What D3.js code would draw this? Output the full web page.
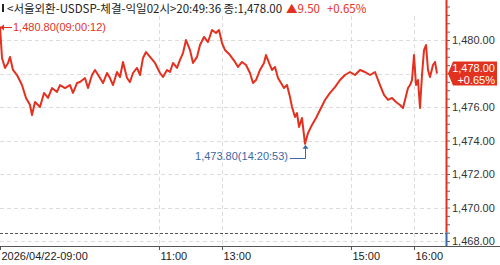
<!DOCTYPE html>
<html>
<head>
<meta charset="utf-8">
<script src="https://cdn.jsdelivr.net/npm/d3@7"></script>
<style>
  body { margin: 0; background: #fff; }
  svg { display: block; }
  text { font-family: "Liberation Sans", Arial, sans-serif; }
</style>
</head>
<body>
<div id="chart"></div>
<script>
// bar sequence index (one per tick bar) and the traded price at it
var seq = [0, 2, 5, 8, 10, 13, 17, 22, 26, 30, 32, 35, 40, 44, 48, 52, 57, 60, 65, 70, 73, 77, 80, 85, 88, 92, 95, 100, 103, 107, 110, 113, 117, 120, 123, 127, 130, 133, 137, 140, 143, 146, 150, 155, 160, 163, 167, 170, 173, 177, 180, 183, 186, 190, 193, 197, 200, 204, 208, 212, 216, 219, 222, 225, 230, 235, 238, 242, 246, 250, 253, 256, 260, 264, 266, 269, 272, 275, 278, 281, 284, 287, 290, 292, 295, 297, 299, 302, 305, 308, 312, 316, 320, 325, 330, 335, 340, 345, 350, 355, 360, 365, 370, 375, 380, 384, 388, 392, 396, 400, 403, 405, 408, 410, 412, 414, 416, 418, 420, 422, 424, 426, 428, 430, 433, 435, 437];
var price = [1480.80, 1478.93, 1478.33, 1478.63, 1478.99, 1478.21, 1477.91, 1477.31, 1476.54, 1476.12, 1475.52, 1476.30, 1476.00, 1476.84, 1476.54, 1477.13, 1476.90, 1477.31, 1477.13, 1477.31, 1476.84, 1477.43, 1477.49, 1477.73, 1477.13, 1477.91, 1478.21, 1477.73, 1477.43, 1478.03, 1477.73, 1477.31, 1478.09, 1477.79, 1478.69, 1477.73, 1477.49, 1478.03, 1478.33, 1477.91, 1478.93, 1479.28, 1478.99, 1478.63, 1478.03, 1477.79, 1478.21, 1478.09, 1478.63, 1478.33, 1478.81, 1479.22, 1480.00, 1479.40, 1478.63, 1478.99, 1479.70, 1480.18, 1479.88, 1480.60, 1480.42, 1480.60, 1479.82, 1479.40, 1479.10, 1478.69, 1478.39, 1478.69, 1478.51, 1478.03, 1477.43, 1477.61, 1478.21, 1478.63, 1479.10, 1478.63, 1478.21, 1478.39, 1477.73, 1477.43, 1477.13, 1477.31, 1476.60, 1476.00, 1475.40, 1475.64, 1474.81, 1475.34, 1473.80, 1474.45, 1474.93, 1475.34, 1475.82, 1476.42, 1476.84, 1477.19, 1477.61, 1477.91, 1478.09, 1477.91, 1478.21, 1478.09, 1477.91, 1478.09, 1477.31, 1476.72, 1476.42, 1476.54, 1476.30, 1476.12, 1475.94, 1476.42, 1477.13, 1477.31, 1477.61, 1479.10, 1477.31, 1477.61, 1475.94, 1477.91, 1479.40, 1479.70, 1478.21, 1477.79, 1478.51, 1478.69, 1478.00];

var tickSeq = [0, 159, 222, 351, 414];
var tickLabels = ["2026/04/22-09:00", "11:00", "13:00", "15:00", "16:00"];
var yTicks = [1468, 1470, 1472, 1474, 1476, 1478, 1480];

var prevClose = 1468.50;
var lastPrice = 1478.00;
var change = "▲9.50";
var changePct = "+0.65%";
var highText = "1,480.80(09:00:12)";
var lowText = "1,473.80(14:20:53)";
var title = "<서울외환-USDSP-체결-익일02시>20:49:36 종:1,478.00";

var width = 500, height = 265;
var axisX = 446, axisBottomY = 246;
var red = "#e3311f", blue = "#3b67a3";

var svg = d3.select("#chart").append("svg")
    .attr("width", width)
    .attr("height", height);

var xScale = d3.scaleLinear().domain([0, 446]).range([0, axisX]);
var yScale = d3.scaleLinear().domain([1468, 1480]).range([241, 40]);

// grid
svg.append("g").selectAll("line.hg")
    .data(yTicks).enter().append("line")
    .attr("x1", 0).attr("x2", axisX)
    .attr("y1", function (d) { return Math.round(yScale(d)) + 0.5; })
    .attr("y2", function (d) { return Math.round(yScale(d)) + 0.5; })
    .attr("stroke", "#dcdcdc")
    .attr("stroke-dasharray", "4,3");

svg.append("g").selectAll("line.vg")
    .data(tickSeq.slice(1)).enter().append("line")
    .attr("x1", function (d) { return Math.round(xScale(d)) + 0.5; })
    .attr("x2", function (d) { return Math.round(xScale(d)) + 0.5; })
    .attr("y1", 16).attr("y2", axisBottomY)
    .attr("stroke", "#dcdcdc")
    .attr("stroke-dasharray", "4,3");

// previous close reference
svg.append("line")
    .attr("x1", 0).attr("x2", axisX)
    .attr("y1", Math.round(yScale(prevClose)) + 0.5)
    .attr("y2", Math.round(yScale(prevClose)) + 0.5)
    .attr("stroke", "#555")
    .attr("stroke-dasharray", "3,2");

// price line
var line = d3.line()
    .x(function (d, i) { return xScale(seq[i]); })
    .y(function (d) { return yScale(d); });

svg.append("path")
    .datum(price)
    .attr("d", line)
    .attr("fill", "none")
    .attr("stroke", red)
    .attr("stroke-width", 2)
    .attr("stroke-linejoin", "round");

// right axis: red above prev close, blue below
svg.append("line")
    .attr("x1", axisX + 0.5).attr("x2", axisX + 0.5)
    .attr("y1", 0).attr("y2", yScale(prevClose))
    .attr("stroke", red).attr("stroke-width", 2);
svg.append("line")
    .attr("x1", axisX + 0.5).attr("x2", axisX + 0.5)
    .attr("y1", yScale(prevClose)).attr("y2", axisBottomY)
    .attr("stroke", blue).attr("stroke-width", 2);

// the last-price badge covers the 1,478 label, so leave that one blank
var yAxis = d3.axisRight(yScale)
    .tickValues(d3.range(1466, 1483.5, 0.5))
    .tickSize(3)
    .tickFormat(function (d) {
        return (yTicks.indexOf(d) >= 0 && d !== lastPrice) ? d3.format(",.2f")(d) : "";
    });

var gy = svg.append("g")
    .attr("transform", "translate(" + (axisX + 1) + ",0)")
    .call(yAxis);
gy.select(".domain").remove();
gy.selectAll(".tick line").attr("stroke", "#666");
gy.selectAll(".tick text")
    .attr("x", 5)
    .attr("fill", "#333")
    .style("font-size", "11px");
gy.selectAll(".tick").filter(function (d) { return d > 1482 || d < 1467.9; }).remove();

// bottom axis
svg.append("line")
    .attr("x1", 0).attr("x2", width)
    .attr("y1", axisBottomY + 0.5).attr("y2", axisBottomY + 0.5)
    .attr("stroke", "#555");

var gx = svg.append("g").selectAll("g")
    .data(tickSeq).enter().append("g")
    .attr("transform", function (d) { return "translate(" + (Math.round(xScale(d)) + 0.5) + "," + axisBottomY + ")"; });
gx.append("line")
    .attr("y1", 0).attr("y2", 4)
    .attr("stroke", "#555");
gx.append("text")
    .attr("x", 1).attr("y", 14)
    .attr("fill", "#222")
    .style("font-size", "11px")
    .text(function (d, i) { return tickLabels[i]; });

// title
svg.append("rect")
    .attr("x", 2).attr("y", 4).attr("width", 2).attr("height", 8)
    .attr("fill", "#222");
var t = svg.append("text")
    .attr("x", 7).attr("y", 13)
    .style("font-family", "'Noto Sans CJK KR', sans-serif")
    .style("font-size", "11.5px")
    .attr("fill", "#222");
t.append("tspan").text(title);
t.append("tspan").attr("fill", red).attr("dx", 4).text(change);
t.append("tspan").attr("fill", red).attr("dx", 7).text(changePct);

// high annotation
var hy = 27;
svg.append("line")
    .attr("x1", 1).attr("x2", 12)
    .attr("y1", hy + 0.5).attr("y2", hy + 0.5)
    .attr("stroke", red);
svg.append("path")
    .attr("d", "M0," + (hy + 0.5) + "L4," + (hy - 2.5) + "L4," + (hy + 3.5) + "Z")
    .attr("fill", red);
svg.append("text")
    .attr("x", 13).attr("y", hy + 4)
    .attr("fill", red)
    .style("font-size", "11px")
    .text(highText);

// low annotation
var lx = xScale(305), ly = yScale(1473.80);
svg.append("path")
    .attr("d", "M290," + 158.5 + "H" + (lx + 0.5) + "V" + (ly + 3))
    .attr("fill", "none")
    .attr("stroke", blue);
svg.append("path")
    .attr("d", "M" + (lx + 0.5) + "," + (ly + 1) + "l-3,4h6Z")
    .attr("fill", blue);
svg.append("text")
    .attr("x", 288).attr("y", 160)
    .attr("text-anchor", "end")
    .attr("fill", blue)
    .style("font-size", "11px")
    .text(lowText);

// last price badge
var by = yScale(lastPrice);
svg.append("path")
    .attr("d", "M" + (axisX + 2) + "," + by + "L453," + (by - 12) + "H497V" + (by + 12) + "H453Z")
    .attr("fill", red);
var badge = svg.append("text")
    .attr("fill", "#fff")
    .style("font-size", "11px")
    .attr("text-anchor", "end");
badge.append("tspan").attr("x", 495).attr("y", by - 2).text(d3.format(",.2f")(lastPrice));
badge.append("tspan").attr("x", 495).attr("y", by + 10).text(changePct);
</script>
</body>
</html>
